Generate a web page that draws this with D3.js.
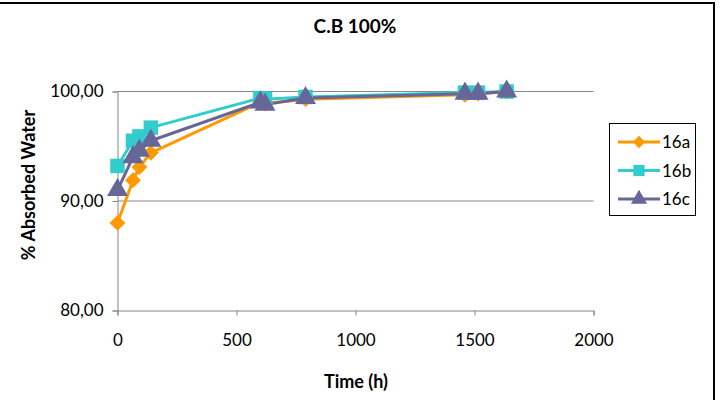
<!DOCTYPE html>
<html><head><meta charset="utf-8">
<script src="https://cdn.jsdelivr.net/npm/d3@7"></script>
<style>body{margin:0;background:#fff;} svg{display:block;font-family:Lato,"Open Sans",sans-serif;}</style>
</head><body><svg id="c" width="721" height="400"></svg>
<script>
const times = [0, 65, 92, 140, 600, 620, 790, 1460, 1515, 1635];
const s16a = [88.0, 91.9, 93.1, 94.4, 99.0, 98.9, 99.3, 99.7, 99.8, 100.0];
const s16b = [93.2, 95.5, 95.9, 96.7, 99.4, 99.3, 99.5, 99.9, 99.9, 100.0];
const s16c = [91.0, 94.0, 94.6, 95.5, 99.0, 98.8, 99.4, 99.8, 99.8, 100.0];
const seriesNames = ["16a", "16b", "16c"];
const xTicks = [0, 500, 1000, 1500, 2000];
const yTicks = [80, 90, 100];

const colors = {"16a": "#FF9900", "16b": "#33CCCC", "16c": "#666699"};
const shapes = {"16a": d3.symbolDiamond2, "16b": d3.symbolSquare, "16c": d3.symbolTriangle};
const sizes = {"16a": 160, "16b": 210, "16c": 190};
const series = [s16a, s16b, s16c].map((v, i) => ({name: seriesNames[i], values: v.map((y, j) => ({t: times[j], v: y}))}));

const svg = d3.select("#c");
svg.append("line").attr("x1", 0).attr("x2", 715).attr("y1", 3).attr("y2", 3).attr("stroke", "#000").attr("stroke-width", 2);
svg.append("line").attr("x1", 714).attr("x2", 714).attr("y1", 2).attr("y2", 400).attr("stroke", "#000").attr("stroke-width", 2);

const x = d3.scaleLinear().domain([0, 2000]).range([117.5, 593.5]);
const y = d3.scaleLinear().domain([80, 100]).range([310.5, 91.5]);

svg.append("g").selectAll("line").data(yTicks.filter(d => d > 80)).join("line")
  .attr("x1", x(0)).attr("x2", x(2000)).attr("y1", d => y(d)).attr("y2", d => y(d))
  .attr("stroke", "#868686").attr("stroke-width", 1);

const yAxis = svg.append("g").attr("transform", `translate(${x(0)},0)`)
  .call(d3.axisLeft(y).tickValues(yTicks).tickSize(5).tickPadding(9).tickFormat(d => d3.format(".2f")(d).replace(".", ",")));
const xAxis = svg.append("g").attr("transform", `translate(0,${y(80)})`)
  .call(d3.axisBottom(x).tickValues(xTicks).tickSize(5).tickPadding(18).tickFormat(d3.format("d")));
[xAxis, yAxis].forEach(a => {
  a.select(".domain").attr("stroke", "#868686");
  a.selectAll(".tick line").attr("stroke", "#868686");
  a.selectAll("text").attr("font-family", "Lato, sans-serif").attr("font-size", 17).attr("fill", "#000");
});

const line = d3.line().x(d => x(d.t)).y(d => y(d.v)).curve(d3.curveLinear);
series.forEach(s => {
  svg.append("path").datum(s.values).attr("d", line).attr("fill", "none")
    .attr("stroke", colors[s.name]).attr("stroke-width", 3).attr("stroke-linejoin", "round");
});
series.forEach(s => {
  svg.append("g").selectAll("path").data(s.values).join("path")
    .attr("transform", d => `translate(${x(d.t)},${y(d.v)})`)
    .attr("d", d3.symbol().type(shapes[s.name]).size(sizes[s.name]))
    .attr("fill", colors[s.name]);
});

svg.append("text").attr("x", 355).attr("y", 33).attr("text-anchor", "middle")
  .attr("font-weight", "bold").attr("font-size", 19).text("C.B 100%");
svg.append("text").attr("x", 356).attr("y", 388).attr("text-anchor", "middle")
  .attr("font-weight", "bold").attr("font-size", 18).text("Time (h)");
svg.append("text").attr("transform", "translate(35,185) rotate(-90)").attr("text-anchor", "middle")
  .attr("font-weight", "bold").attr("font-size", 18).text("% Absorbed Water");

const lg = svg.append("g");
lg.append("rect").attr("x", 609.5).attr("y", 123.5).attr("width", 86).attr("height", 92)
  .attr("fill", "#fff").attr("stroke", "#000").attr("stroke-width", 1);
const ly = d3.scalePoint().domain(seriesNames).range([142, 199]);
seriesNames.forEach(n => {
  lg.append("line").attr("x1", 618).attr("x2", 660).attr("y1", ly(n)).attr("y2", ly(n))
    .attr("stroke", colors[n]).attr("stroke-width", 3);
  lg.append("path").attr("transform", `translate(639,${ly(n)})`)
    .attr("d", d3.symbol().type(shapes[n]).size(sizes[n] * 0.6)).attr("fill", colors[n]);
  lg.append("text").attr("x", 662).attr("y", ly(n) + 6).attr("font-size", 17).text(n);
});
</script></body></html>
